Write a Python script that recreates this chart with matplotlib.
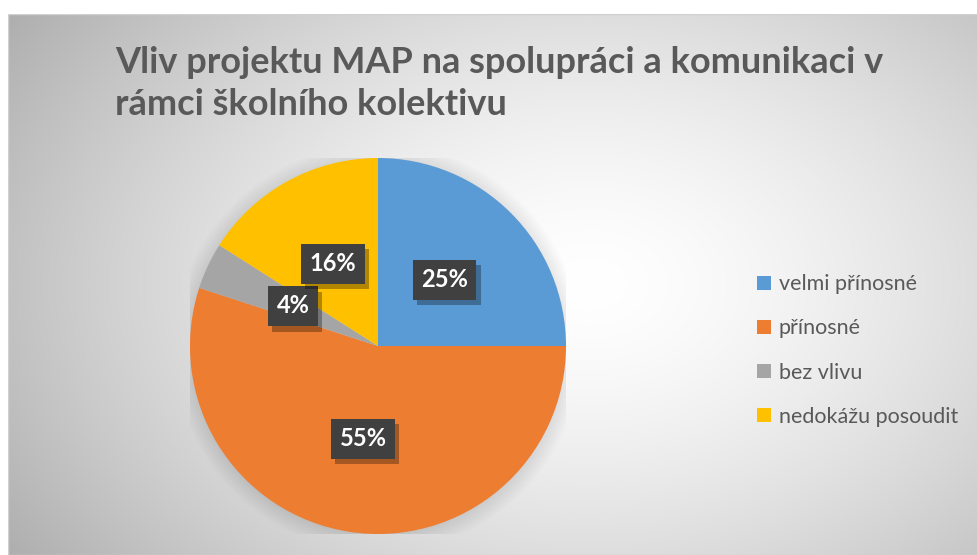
import numpy as np
import matplotlib
matplotlib.use("Agg")
import matplotlib.pyplot as plt
from matplotlib.patches import Patch, Rectangle
import matplotlib.patheffects as pe

categories = ["velmi přínosné", "přínosné", "bez vlivu", "nedokážu posoudit"]
values = [25, 55, 4, 16]
colors = ["#5B9BD5", "#ED7D31", "#A5A5A5", "#FFC000"]
title = "Vliv projektu MAP na spolupráci a komunikaci v\nrámci školního kolektivu"

W, H = 978, 555
fig = plt.figure(figsize=(W / 100, H / 100), dpi=100)
fig.patch.set_facecolor("white")

# background radial gradient (chart area)
x0, y0 = 8, 14
bg = fig.add_axes([x0 / W, 0, 1 - x0 / W, (H - y0) / H])
bg.set_axis_off()
nx, ny = 400, 240
xx, yy = np.meshgrid(np.linspace(0, 1, nx), np.linspace(0, 1, ny))
cx, cy = 0.6, 0.5
r = np.sqrt(((xx - cx) / 0.6) ** 2 + ((yy - cy) / 0.75) ** 2)
g = 1.0 - 0.24 * np.clip(r, 0, 1.4) ** 1.5
img = np.dstack([g, g, g])
bg.imshow(img, extent=[0, 1, 0, 1], aspect="auto", origin="upper")
bg.add_patch(Rectangle((0, 0), 1, 1, transform=bg.transAxes, fill=False,
                       edgecolor="#d0d0d0", lw=1))
bg.set_xlim(0, 1)
bg.set_ylim(0, 1)

# pie
pcx, pcy, pr = 378, 346, 188
ax = fig.add_axes([(pcx - pr) / W, (H - pcy - pr) / H, 2 * pr / W, 2 * pr / H])
ax.set_axis_off()
# soft shadow
for k in range(8):
    circ = plt.Circle((0.0, -0.01), 1.0 + 0.012 * k, color="black",
                      alpha=0.01, lw=0, zorder=0)
    ax.add_patch(circ)
wedges, texts, autotexts = ax.pie(
    values, colors=colors, startangle=90, counterclock=False,
    autopct="%d%%", pctdistance=0.5, radius=1.0,
    wedgeprops=dict(linewidth=0),
    textprops=dict(color="white", fontsize=17, fontweight="bold", family="Lato"))
ax.set_aspect("equal")
ax.set_xlim(-1, 1)
ax.set_ylim(-1, 1)

for t in autotexts:
    t.set_zorder(5)
    t.set_bbox(dict(boxstyle="square,pad=0.36", facecolor="#404040",
                    edgecolor="none", linewidth=0))
    t.get_bbox_patch().set_path_effects(
        [pe.SimplePatchShadow(offset=(3, -4), shadow_rgbFace="black", alpha=0.3),
         pe.Normal()])

# title
fig.text(115 / W, 1 - 46 / H, title, ha="left", va="top", fontsize=26,
         fontweight="bold", family="Lato", color="#595959", linespacing=1.35)

# legend
handles = [Patch(facecolor=c, edgecolor="none") for c in colors]
leg = fig.legend(handles, categories, loc="upper left",
                 bbox_to_anchor=(738 / W, 1 - 255 / H), frameon=False,
                 prop=dict(family="Lato", size=15.5), labelcolor="#595959",
                 handlelength=0.65, handleheight=0.65, handletextpad=0.35,
                 labelspacing=1.12)

fig.savefig("out.png", dpi=100)
